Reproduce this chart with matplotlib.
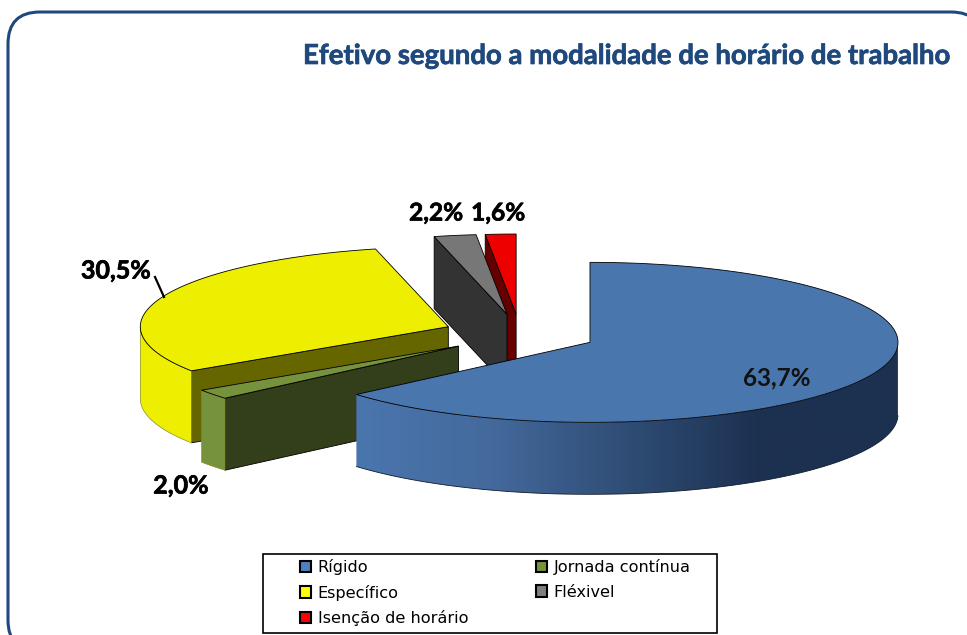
import numpy as np
import matplotlib
matplotlib.use("Agg")
import matplotlib.pyplot as plt
import matplotlib.patheffects as pe
from matplotlib.patches import Polygon, FancyBboxPatch, Patch, Rectangle
from matplotlib.colors import LinearSegmentedColormap

plt.rcParams['font.family'] = ['Lato', 'DejaVu Sans']

titulo = "Efetivo segundo a modalidade de horário de trabalho"
categorias = ["Rígido", "Jornada contínua", "Específico", "Fléxivel", "Isenção de horário"]
valores = [63.7, 2.0, 30.5, 2.2, 1.6]
rotulos = ["63,7%", "2,0%", "30,5%", "2,2%", "1,6%"]
cor_topo = ["#4a76ae", "#76923c", "#eeee00", "#777777", "#ee0000"]
cor_corte = ["#1c3050", "#333f1a", "#666600", "#333333", "#660000"]
cor_legenda = ["#4f81bd", "#76923c", "#ffff00", "#7f7f7f", "#ff0000"]

# geometria da pizza, em pixels
cx, cy = 520, 334
rx, ry = 308, 80
altura = 72
explode = 0.25
ordem = [4, 3, 2, 1, 0]  # de tras para a frente


def ponto(t, ax0, ay0):
    r = np.radians(t)
    return ax0 + rx * np.sin(r), ay0 - ry * np.cos(r)


fig = plt.figure(figsize=(9.67, 6.35), dpi=100)
ax = fig.add_axes([0, 0, 1, 1])
ax.axis("off")

ax.add_patch(FancyBboxPatch((8, 12), 975, 640, boxstyle="round,pad=0,rounding_size=32",
                            fc="white", ec="#1f497d", lw=2.2))

fim = np.cumsum(valores) / sum(valores) * 360
ini = np.concatenate([[0], fim[:-1]])
meio = (ini + fim) / 2

for i in ordem:
    ax0 = cx + explode * rx * np.sin(np.radians(meio[i]))
    ay0 = cy - explode * ry * np.cos(np.radians(meio[i]))
    t = np.linspace(ini[i], fim[i], 200)
    bx, by = ponto(t, ax0, ay0)

    # parede do corte inicial
    if np.cos(np.radians(ini[i] - 90)) < -0.01:
        parede = [(ax0, ay0), (bx[0], by[0]), (bx[0], by[0] + altura), (ax0, ay0 + altura)]
        ax.add_patch(Polygon(parede, fc=cor_corte[i], ec="black", lw=0.6, zorder=2))

    # borda externa voltada para a frente
    frente = np.cos(np.radians(t)) <= 0
    if frente.any():
        fx, fy = bx[frente], by[frente]
        borda = list(zip(fx, fy)) + list(zip(fx[::-1], fy[::-1] + altura))
        if i == 0:
            p = Polygon(borda, closed=True, fc="none", ec="none", zorder=2)
            ax.add_patch(p)
            grad = LinearSegmentedColormap.from_list(
                "g", ["#4a76ae", "#44699c", "#2f4d75", "#1c3050", "#1c3050"])
            im = ax.imshow(np.linspace(0, 1, 256).reshape(1, -1), cmap=grad, aspect="auto",
                           extent=[fx.min(), fx.max(), fy.max() + altura, fy.min()], zorder=2)
            im.set_clip_path(p)
            ax.plot(fx, fy + altura, color="#111a2a", lw=0.6, zorder=2)
        else:
            ax.add_patch(Polygon(borda, closed=True, fc=cor_topo[i], ec="#8a8a30", lw=0.5, zorder=2))

    # topo da fatia
    ax.add_patch(Polygon([(ax0, ay0)] + list(zip(bx, by)), closed=True, fc=cor_topo[i],
                         ec="black", lw=0.6, zorder=3))

ax.set_xlim(0, 967)
ax.set_ylim(635, 0)

ax.text(947, 56, titulo, ha="right", va="center", fontsize=19.85, fontweight="bold", color="#1f497d",
        path_effects=[pe.withStroke(linewidth=0.5, foreground="#1f497d")])

grosso = [pe.withStroke(linewidth=0.5, foreground="black")]
ax.text(777, 378, rotulos[0], ha="center", va="center", fontsize=17.5, fontweight="bold", color="#111111", zorder=5)
ax.text(181, 486, rotulos[1], ha="center", va="center", fontsize=18, fontweight="bold", color="black", zorder=5, path_effects=grosso)
ax.text(116, 271, rotulos[2], ha="center", va="center", fontsize=18, fontweight="bold", color="black", zorder=5, path_effects=grosso)
ax.text(436, 213, rotulos[3], ha="center", va="center", fontsize=17.6, fontweight="bold", color="black", zorder=5, path_effects=grosso)
ax.text(498, 213, rotulos[4], ha="center", va="center", fontsize=17.6, fontweight="bold", color="black", zorder=5, path_effects=grosso)
ax.plot([155, 164], [277, 297], color="black", lw=1.6, zorder=5)

ax.add_patch(Rectangle((263, 554), 454, 79, fc="white", ec="black", lw=1.2, zorder=4))
ordem_leg = [0, 2, 4, 1, 3]
handles = [Patch(fc=cor_legenda[i], ec="black", lw=1.5, label=categorias[i]) for i in ordem_leg]
leg = ax.legend(handles=handles, ncol=2, loc="upper left", bbox_to_anchor=(300 / 967, 1 - 559 / 635),
                frameon=False, borderaxespad=0, borderpad=0,
                prop={"family": "DejaVu Sans", "size": 11.6}, handlelength=0.68, handleheight=0.68,
                handletextpad=0.42, labelspacing=0.6, columnspacing=4.2)
leg.set_zorder(5)

fig.savefig("out.png", dpi=100)
